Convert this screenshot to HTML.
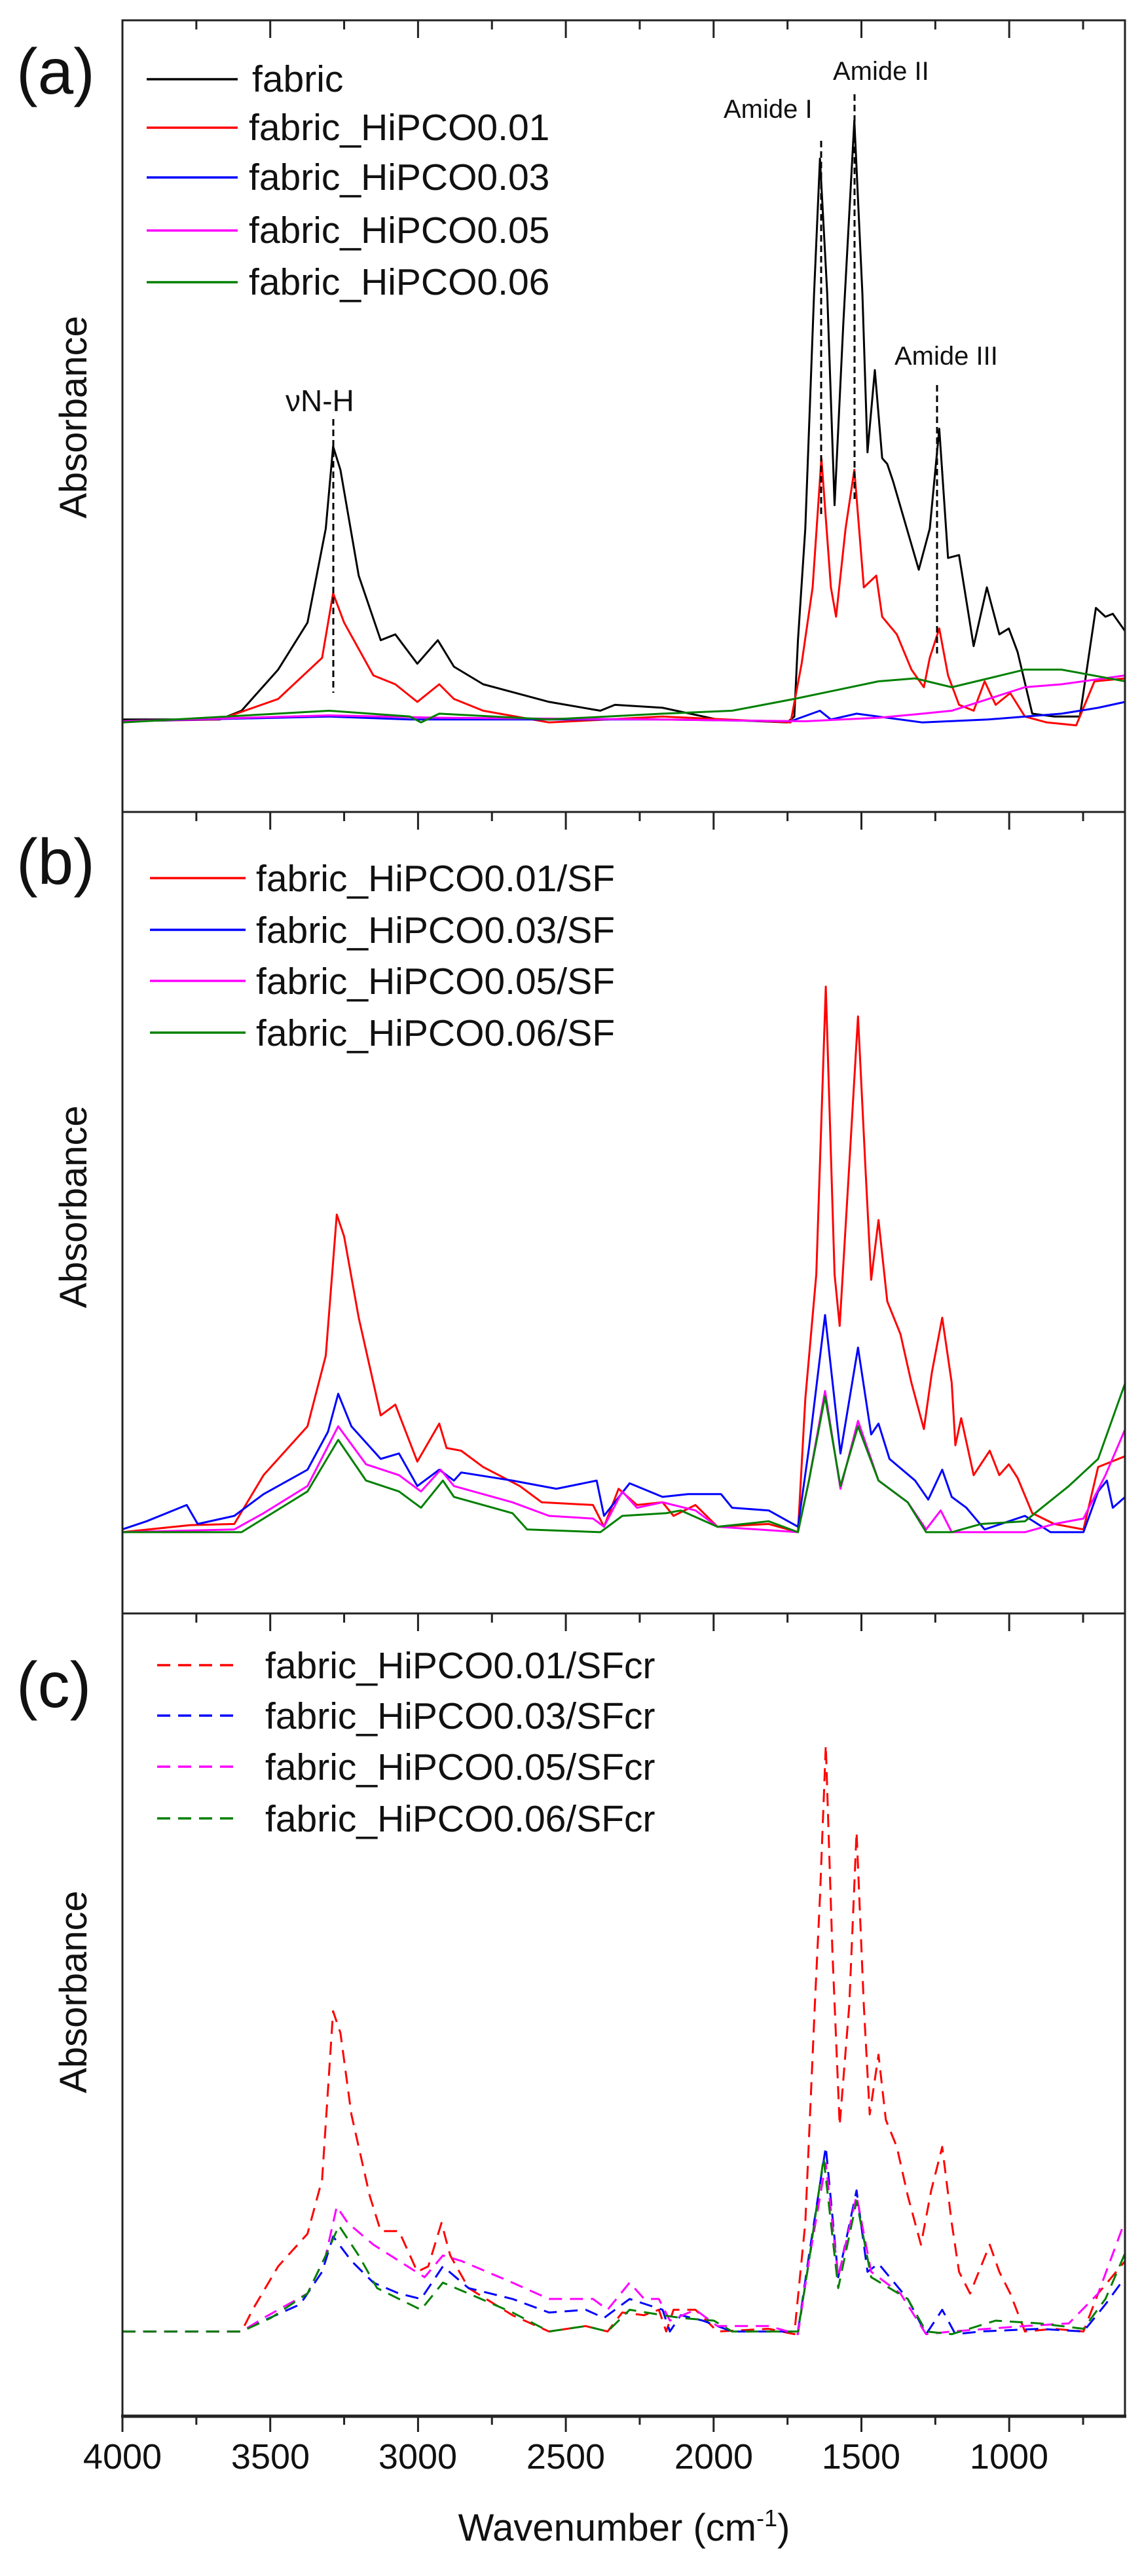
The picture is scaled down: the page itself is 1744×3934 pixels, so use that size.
<!DOCTYPE html>
<html><head><meta charset="utf-8">
<style>
html,body{margin:0;padding:0;background:#fff;}
svg{display:block;}
text{font-family:"Liberation Sans",Arial,sans-serif;fill:#111;}
</style></head>
<body>
<svg id="s" width="1744" height="3934" viewBox="0 0 1744 3934" xmlns="http://www.w3.org/2000/svg">
<rect width="1744" height="3934" fill="#fff"/>
<g id="curves"></g>
<g id="frame" fill="none" stroke="#222" stroke-width="3">
<rect x="187" y="31" width="1531" height="1209"/>
<rect x="187" y="1240" width="1531" height="1224"/>
<rect x="187" y="2464" width="1531" height="1225"/>
<line x1="185" y1="3690" x2="1720" y2="3690" stroke-width="5"/>
</g>
<g id="ticks" stroke="#222" stroke-width="3"></g>
<!-- panel labels -->
<text x="25" y="143" font-size="98">(a)</text>
<text x="25" y="1350" font-size="98">(b)</text>
<text x="25" y="2607" font-size="98">(c)</text>
<!-- y labels -->
<text transform="translate(132,637) rotate(-90)" font-size="58" text-anchor="middle">Absorbance</text>
<text transform="translate(132,1843) rotate(-90)" font-size="58" text-anchor="middle">Absorbance</text>
<text transform="translate(132,3042) rotate(-90)" font-size="58" text-anchor="middle">Absorbance</text>
<!-- legend a -->
<g stroke-width="3.5">
<line x1="224" y1="121" x2="363" y2="121" stroke="#000"/>
<line x1="224" y1="195" x2="363" y2="195" stroke="#ff0000"/>
<line x1="224" y1="271" x2="363" y2="271" stroke="#0000ff"/>
<line x1="224" y1="352" x2="363" y2="352" stroke="#ff00ff"/>
<line x1="224" y1="431" x2="363" y2="431" stroke="#008000"/>
</g>
<g font-size="57">
<text x="385" y="140">fabric</text>
<text x="380" y="214">fabric_HiPCO0.01</text>
<text x="380" y="290">fabric_HiPCO0.03</text>
<text x="380" y="371">fabric_HiPCO0.05</text>
<text x="380" y="450">fabric_HiPCO0.06</text>
</g>
<!-- annotations a -->
<g font-size="40">
<text x="1105" y="180">Amide I</text>
<text x="1272" y="122">Amide II</text>
<text x="1366" y="557">Amide III</text>
<text x="436" y="628" font-size="46">νN-H</text>
</g>
<g stroke="#000" stroke-width="3" stroke-dasharray="10,6">
<line x1="509" y1="640" x2="509" y2="1058"/>
<line x1="1254" y1="215" x2="1254" y2="790"/>
<line x1="1305" y1="144" x2="1305" y2="762"/>
<line x1="1431" y1="588" x2="1431" y2="1004"/>
</g>
<!-- legend b -->
<g stroke-width="3.5">
<line x1="229" y1="1341" x2="375" y2="1341" stroke="#ff0000"/>
<line x1="229" y1="1420" x2="375" y2="1420" stroke="#0000ff"/>
<line x1="229" y1="1498" x2="375" y2="1498" stroke="#ff00ff"/>
<line x1="229" y1="1577" x2="375" y2="1577" stroke="#008000"/>
</g>
<g font-size="57">
<text x="391" y="1361">fabric_HiPCO0.01/SF</text>
<text x="391" y="1440">fabric_HiPCO0.03/SF</text>
<text x="391" y="1518">fabric_HiPCO0.05/SF</text>
<text x="391" y="1597">fabric_HiPCO0.06/SF</text>
</g>
<!-- legend c -->
<g stroke-width="3.5" stroke-dasharray="20,12">
<line x1="240" y1="2543" x2="363" y2="2543" stroke="#ff0000"/>
<line x1="240" y1="2620" x2="363" y2="2620" stroke="#0000ff"/>
<line x1="240" y1="2698" x2="363" y2="2698" stroke="#ff00ff"/>
<line x1="240" y1="2777" x2="363" y2="2777" stroke="#008000"/>
</g>
<g font-size="57">
<text x="405" y="2563">fabric_HiPCO0.01/SFcr</text>
<text x="405" y="2640">fabric_HiPCO0.03/SFcr</text>
<text x="405" y="2718">fabric_HiPCO0.05/SFcr</text>
<text x="405" y="2797">fabric_HiPCO0.06/SFcr</text>
</g>
<!-- x tick labels -->
<g font-size="54" text-anchor="middle">
<text x="187" y="3770">4000</text>
<text x="413" y="3770">3500</text>
<text x="638" y="3770">3000</text>
<text x="864" y="3770">2500</text>
<text x="1090" y="3770">2000</text>
<text x="1315" y="3770">1500</text>
<text x="1541" y="3770">1000</text>
</g>
<text x="953" y="3880" font-size="58" text-anchor="middle">Wavenumber (cm<tspan dy="-22" font-size="36">-1</tspan><tspan dy="22">)</tspan></text>
</svg>
<script>
(function(){
var NS="http://www.w3.org/2000/svg";
var cg=document.getElementById("curves"), tg=document.getElementById("ticks");
function add(p,color,oy,sy,dash){
  var pts=[];for(var i=0;i<p.length;i+=2){pts.push((p[i]*1.118).toFixed(1)+","+(oy+p[i+1]*sy).toFixed(1));}
  var e=document.createElementNS(NS,"polyline");
  e.setAttribute("points",pts.join(" "));e.setAttribute("fill","none");
  e.setAttribute("stroke",color);e.setAttribute("stroke-width","3");
  e.setAttribute("stroke-linejoin","round");
  if(dash)e.setAttribute("stroke-dasharray","20,12");
  cg.appendChild(e);
}
var A=0,SA=0.897,B=1200,SB=0.829,C=2400,SC=0.829;
// panel a
add([167,1225,300,1225,330,1210,380,1140,420,1060,445,900,455,760,465,800,490,980,520,1090,540,1080,570,1130,598,1090,620,1135,660,1165,750,1195,820,1210,840,1200,905,1205,980,1225,1075,1230,1085,1220,1090,1090,1100,900,1112,500,1120,270,1130,500,1140,860,1152,550,1167,205,1178,500,1185,770,1195,630,1205,780,1212,790,1220,820,1255,970,1270,900,1283,730,1295,950,1310,945,1330,1100,1348,1000,1365,1080,1378,1070,1390,1110,1410,1215,1440,1220,1475,1220,1497,1035,1510,1050,1520,1045,1537,1075],"#000",A,SA);
add([167,1228,300,1225,380,1190,440,1120,455,1010,470,1060,510,1150,540,1165,570,1195,600,1165,620,1190,660,1210,750,1230,830,1225,905,1220,1080,1230,1095,1130,1110,1000,1122,780,1135,1000,1142,1050,1155,900,1167,800,1180,1000,1197,980,1205,1050,1225,1080,1245,1140,1262,1170,1270,1120,1283,1070,1295,1150,1310,1200,1330,1210,1345,1160,1360,1200,1380,1180,1400,1220,1430,1230,1470,1235,1495,1160,1537,1155],"#ff0000",A,SA);
add([167,1228,450,1220,560,1225,900,1225,1080,1228,1120,1210,1135,1225,1170,1215,1260,1230,1350,1225,1450,1215,1500,1205,1537,1195],"#0000ff",A,SA);
add([167,1228,450,1218,600,1222,900,1225,1100,1228,1200,1222,1260,1215,1300,1210,1400,1170,1450,1165,1537,1150],"#ff00ff",A,SA);
add([167,1230,450,1210,560,1220,575,1230,600,1215,750,1225,905,1215,1000,1210,1085,1190,1200,1160,1250,1155,1300,1170,1400,1140,1450,1140,1537,1160],"#008000",A,SA);
// panel b
add([167,1375,260,1362,320,1360,360,1270,420,1180,445,1050,460,790,470,830,490,980,520,1160,540,1140,570,1245,600,1175,610,1220,630,1225,660,1255,710,1290,740,1320,810,1325,825,1365,845,1295,870,1325,905,1320,920,1345,950,1325,980,1365,1050,1360,1090,1375,1100,1130,1115,900,1128,370,1140,900,1147,995,1160,700,1172,425,1182,700,1190,910,1200,800,1212,950,1230,1010,1245,1100,1262,1185,1273,1080,1287,980,1300,1100,1305,1215,1313,1165,1330,1270,1352,1225,1365,1270,1378,1250,1390,1275,1410,1340,1440,1360,1480,1370,1500,1255,1537,1235],"#ff0000",B,SB);
add([167,1370,200,1355,255,1325,270,1360,320,1345,360,1305,420,1260,448,1190,462,1120,480,1180,520,1240,545,1230,570,1290,600,1260,620,1280,630,1265,700,1280,760,1295,815,1280,825,1345,860,1285,905,1310,940,1305,985,1305,1000,1330,1050,1335,1090,1365,1105,1220,1127,975,1148,1230,1172,1035,1190,1195,1200,1175,1215,1240,1250,1280,1268,1315,1287,1260,1300,1310,1320,1330,1345,1370,1400,1345,1435,1375,1480,1375,1500,1300,1512,1280,1520,1330,1537,1310],"#0000ff",B,SB);
add([167,1375,320,1370,360,1340,420,1290,462,1180,500,1250,545,1270,575,1300,602,1260,620,1290,700,1320,750,1345,810,1350,825,1365,850,1300,870,1330,905,1320,950,1335,980,1365,1090,1375,1105,1280,1127,1115,1148,1295,1172,1170,1200,1280,1240,1320,1265,1370,1285,1335,1300,1375,1400,1375,1440,1360,1480,1350,1510,1270,1537,1185],"#ff00ff",B,SB);
add([167,1375,330,1375,360,1350,420,1300,462,1205,500,1280,545,1300,575,1330,605,1280,620,1310,700,1340,720,1370,820,1375,850,1345,910,1340,930,1335,980,1365,1050,1355,1090,1375,1105,1280,1127,1125,1148,1290,1172,1180,1200,1280,1240,1320,1265,1375,1300,1375,1340,1360,1400,1355,1460,1290,1500,1240,1537,1100],"#008000",B,SB);
// panel c
add([167,1400,330,1400,345,1360,380,1280,420,1220,440,1120,455,810,465,850,480,1000,505,1150,520,1215,545,1215,570,1290,585,1280,603,1200,615,1260,640,1320,700,1370,750,1400,800,1390,830,1400,850,1365,880,1370,900,1360,910,1400,920,1360,950,1360,980,1400,1050,1395,1085,1405,1100,1200,1113,800,1120,600,1128,320,1137,700,1147,1020,1160,800,1170,480,1180,800,1188,1000,1200,890,1210,1010,1225,1060,1240,1150,1258,1240,1272,1140,1287,1060,1300,1200,1310,1290,1325,1330,1352,1240,1365,1290,1380,1330,1400,1400,1440,1395,1480,1400,1500,1330,1537,1270],"#ff0000",C,SC,1);
add([167,1400,330,1400,360,1380,410,1350,440,1290,455,1225,480,1270,510,1310,545,1330,575,1340,605,1280,640,1320,700,1340,750,1365,800,1360,825,1375,860,1340,905,1360,915,1400,930,1370,960,1380,1000,1400,1090,1400,1105,1260,1128,1060,1145,1300,1170,1140,1185,1290,1200,1275,1240,1340,1265,1405,1287,1360,1305,1405,1340,1400,1420,1395,1480,1400,1510,1350,1537,1300],"#0000ff",C,SC,1);
add([167,1400,330,1400,360,1375,420,1330,445,1260,460,1170,475,1200,510,1240,545,1270,580,1300,605,1260,630,1270,700,1310,750,1340,810,1340,830,1360,860,1310,880,1340,900,1340,915,1380,950,1360,980,1390,1050,1390,1090,1405,1105,1270,1128,1090,1145,1300,1170,1150,1190,1290,1230,1330,1265,1405,1300,1400,1400,1390,1460,1385,1500,1330,1537,1195],"#ff00ff",C,SC,1);
add([167,1400,330,1400,370,1375,420,1330,445,1260,463,1205,490,1260,515,1320,545,1340,575,1360,605,1310,640,1330,700,1365,750,1400,800,1390,830,1400,860,1360,905,1370,930,1375,975,1380,1000,1400,1090,1400,1105,1270,1125,1080,1145,1320,1170,1160,1190,1300,1240,1340,1265,1400,1300,1405,1360,1380,1420,1385,1480,1395,1510,1340,1537,1255],"#008000",C,SC,1);
// ticks
function tick(x,y1,y2){var l=document.createElementNS(NS,"line");l.setAttribute("x1",x);l.setAttribute("x2",x);l.setAttribute("y1",y1);l.setAttribute("y2",y2);tg.appendChild(l);}
var tops=[31,1240,2464];
for(var w=4000;w>=650;w-=250){
  var x=187+(4000-w)*0.4514, maj=(w%500==0);
  tops.forEach(function(t){tick(x,t,t+(maj?27:14));});
  tick(x,3690,3690+(maj?24:13));
}
})();
</script>
</body></html>
